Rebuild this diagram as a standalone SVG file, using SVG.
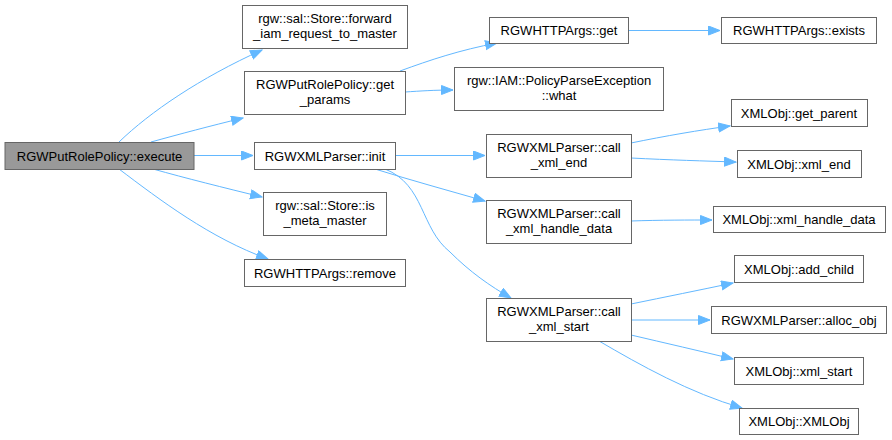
<svg xmlns="http://www.w3.org/2000/svg" width="892" height="440" viewBox="0 0 892 440">
<defs>
<style>
.n rect{fill:#ffffff;stroke:#666666;stroke-width:1}
.n.root rect{fill:#999999}
.n text{font-family:"Liberation Sans",Arial,sans-serif;font-size:13px;fill:#000000;text-anchor:middle}
.e path{fill:none;stroke:#63b8ff;stroke-width:1;marker-end:url(#ah)}
</style>
<marker id="ah" markerUnits="userSpaceOnUse" markerWidth="13" markerHeight="11" refX="12" refY="5" orient="auto">
<path d="M0.5,0.5 L12,5 L0.5,9.5 z" fill="#63b8ff" stroke="#63b8ff" stroke-width="1"/>
</marker>
</defs>
<rect width="892" height="440" fill="#ffffff"/>
<g id="edges" class="e">
<path d="M119,142 C150,112 200,78 262,50"/>
<path d="M151,142 C180,134 210,126 243,118"/>
<path d="M194,155.5 L253,155.5"/>
<path d="M153,169 C185,178 225,188 262,197"/>
<path d="M119,169 C160,200 210,238 268,259"/>
<path d="M400,71 C430,60 460,50 497,43"/>
<path d="M405,92 C420,91 435,90 453,90"/>
<path d="M628,30.5 L720,30.5"/>
<path d="M395,155.5 L485,155.5"/>
<path d="M375,169 C410,180 450,191 485,201"/>
<path d="M385,169 C425,185 420,228 450,252 C470,272 490,286 511,298"/>
<path d="M631,143 C665,136 700,130 730,126"/>
<path d="M631,158 C670,160 705,161 736,162"/>
<path d="M631,221 C660,220 690,220 712,220"/>
<path d="M631,304 C665,297 700,290 733,283"/>
<path d="M631,320 L710,320"/>
<path d="M631,335 C665,343 700,351 733,359"/>
<path d="M599,341 C640,365 690,393 742,408"/>
</g>
<g id="n_execute" class="n root"><rect x="5" y="142.5" width="189" height="27"/><text x="99.5" y="160.5">RGWPutRolePolicy::execute</text></g>
<g id="n_forward" class="n"><rect x="242.5" y="5.5" width="165" height="43"/><text x="325" y="22.5">rgw::sal::Store::forward</text><text x="325" y="38">_iam_request_to_master</text></g>
<g id="n_get_params" class="n"><rect x="244.5" y="71.5" width="161" height="43"/><text x="325" y="88.5">RGWPutRolePolicy::get</text><text x="325" y="104">_params</text></g>
<g id="n_init" class="n"><rect x="254.5" y="142.5" width="141" height="27"/><text x="325" y="160.5">RGWXMLParser::init</text></g>
<g id="n_is_meta" class="n"><rect x="263.5" y="192.5" width="123" height="43"/><text x="325" y="209.5">rgw::sal::Store::is</text><text x="325" y="225">_meta_master</text></g>
<g id="n_remove" class="n"><rect x="244.5" y="259.5" width="161" height="27"/><text x="325" y="277.5">RGWHTTPArgs::remove</text></g>
<g id="n_get" class="n"><rect x="489.5" y="17.5" width="139" height="26"/><text x="559" y="35">RGWHTTPArgs::get</text></g>
<g id="n_exists" class="n"><rect x="721.5" y="17.5" width="155" height="26"/><text x="799" y="35">RGWHTTPArgs::exists</text></g>
<g id="n_what" class="n"><rect x="454.5" y="67.5" width="209" height="43"/><text x="559" y="84.5">rgw::IAM::PolicyParseException</text><text x="559" y="100">::what</text></g>
<g id="n_get_parent" class="n"><rect x="731.5" y="99.5" width="136" height="27"/><text x="799" y="117.5">XMLObj::get_parent</text></g>
<g id="n_call_end" class="n"><rect x="486.5" y="134.5" width="145" height="43"/><text x="559" y="151.5">RGWXMLParser::call</text><text x="559" y="167">_xml_end</text></g>
<g id="n_xml_end" class="n"><rect x="737.5" y="150.5" width="124" height="27"/><text x="799" y="168.5">XMLObj::xml_end</text></g>
<g id="n_call_hd" class="n"><rect x="486.5" y="200.5" width="145" height="43"/><text x="559" y="217.5">RGWXMLParser::call</text><text x="559" y="233">_xml_handle_data</text></g>
<g id="n_xml_hd" class="n"><rect x="713.5" y="206.5" width="172" height="26"/><text x="799" y="224">XMLObj::xml_handle_data</text></g>
<g id="n_add_child" class="n"><rect x="734.5" y="255.5" width="129" height="27"/><text x="799" y="273.5">XMLObj::add_child</text></g>
<g id="n_call_start" class="n"><rect x="486.5" y="298.5" width="145" height="43"/><text x="559" y="315.5">RGWXMLParser::call</text><text x="559" y="331">_xml_start</text></g>
<g id="n_alloc" class="n"><rect x="711.5" y="306.5" width="175" height="27"/><text x="799" y="324.5">RGWXMLParser::alloc_obj</text></g>
<g id="n_xml_start" class="n"><rect x="734.5" y="357.5" width="129" height="27"/><text x="799" y="375.5">XMLObj::xml_start</text></g>
<g id="n_xmlobj" class="n"><rect x="739.5" y="408.5" width="119" height="26"/><text x="799" y="426">XMLObj::XMLObj</text></g>
</svg>
